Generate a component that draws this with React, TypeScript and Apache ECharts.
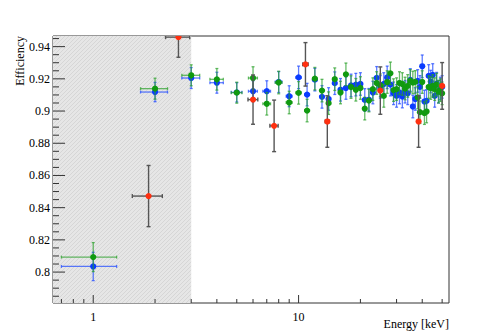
import React, { useEffect, useRef } from "react";
import * as echarts from "echarts";

// ---- data ----
const energies = [
  1, 2, 3, 4, 5, 6, 7, 8, 9, 10, 11, 12, 13, 14, 15, 16, 17, 18, 19, 20, 21, 22, 23, 24, 25,
  26, 27, 28, 29, 30, 31, 32, 33, 34, 35, 36, 37, 38, 39, 40, 41, 42, 43, 44, 45, 46, 47, 48, 49, 50,
];
const energyHalfWidth = 0.3;

const blueEff = [
  0.8035, 0.9118, 0.9205, 0.9176, 0.9116, 0.9123, 0.9123, 0.918, 0.9092, 0.9209, 0.9102, 0.9195,
  0.9088, 0.9075, 0.9173, 0.9132, 0.9143, 0.9159, 0.9164, 0.9168, 0.9069, 0.907, 0.9115, 0.9206,
  0.915, 0.9168, 0.9209, 0.9164, 0.911, 0.9094, 0.9115, 0.909, 0.912, 0.911, 0.9193, 0.9028,
  0.9075, 0.9187, 0.915, 0.9278, 0.9059, 0.9063, 0.9218, 0.9183, 0.9224, 0.9094, 0.917, 0.912,
  0.914, 0.915,
];
const blueErr = [
  0.0088, 0.006, 0.0065, 0.0065, 0.006, 0.0065, 0.0065, 0.0065, 0.0065, 0.007, 0.007, 0.007,
  0.007, 0.007, 0.007, 0.007, 0.007, 0.007, 0.007, 0.007, 0.007, 0.007, 0.007, 0.007, 0.007,
  0.007, 0.007, 0.007, 0.007, 0.007, 0.007, 0.007, 0.007, 0.007, 0.007, 0.007, 0.007, 0.007,
  0.007, 0.007, 0.007, 0.007, 0.007, 0.007, 0.007, 0.007, 0.007, 0.007, 0.007, 0.007,
];

const greenEff = [
  0.8093, 0.9139, 0.9222, 0.9197, 0.9114, 0.9205, 0.9045, 0.9177, 0.9053, 0.9113, 0.9003, 0.9201,
  0.9127, 0.9049, 0.9198, 0.9115, 0.9228, 0.9149, 0.9132, 0.9143, 0.9015, 0.9065, 0.9136, 0.9174,
  0.916, 0.9094, 0.918, 0.9234, 0.913, 0.9136, 0.9174, 0.9168, 0.914, 0.9156, 0.9187, 0.9177,
  0.9181, 0.9084, 0.8993, 0.918, 0.8987, 0.8997, 0.9149, 0.9143, 0.9156, 0.9136, 0.9164, 0.912,
  0.913, 0.911,
];
const greenErr = [
  0.009, 0.0065, 0.0065, 0.0067, 0.0065, 0.007, 0.007, 0.007, 0.007, 0.007, 0.007, 0.007,
  0.007, 0.007, 0.007, 0.007, 0.007, 0.007, 0.007, 0.007, 0.007, 0.007, 0.007, 0.007, 0.007,
  0.007, 0.007, 0.007, 0.007, 0.007, 0.007, 0.007, 0.007, 0.007, 0.007, 0.007, 0.007, 0.007,
  0.007, 0.007, 0.007, 0.007, 0.007, 0.007, 0.007, 0.007, 0.007, 0.007, 0.007, 0.007,
];

const redEnergy = [1.86, 2.6, 6, 7.6, 10.8, 13.8, 25, 38.4, 50];
const redHalfWidth = [0.31, 0.35, 0.33, 0.35, 0.33, 0.33, 0.33, 0.33, 0.33];
const redEff = [0.8472, 0.9459, 0.9071, 0.8908, 0.929, 0.8935, 0.9127, 0.8935, 0.9156];
const redErr = [0.019, 0.0125, 0.0153, 0.016, 0.0135, 0.016, 0.0147, 0.016, 0.0145];

const xRange = [0.637, 54];
const yRange = [0.7808, 0.9466];
const shadedUpTo = 3;

const xMajorTicks = [1, 10];
const xMinorTicks = [0.7, 0.8, 0.9, 2, 3, 4, 5, 6, 7, 8, 9, 20, 30, 40, 50];
const yMajorTicks = [0.8, 0.82, 0.84, 0.86, 0.88, 0.9, 0.92, 0.94];
const yMinorStep = 0.005;

const FONT = "Liberation Serif";

function makeHatch(): any {
  const c = document.createElement("canvas");
  c.width = 4;
  c.height = 4;
  const ctx = c.getContext("2d");
  if (!ctx) return "#e0e0e0";
  ctx.fillStyle = "#e6e6e6";
  ctx.fillRect(0, 0, 4, 4);
  ctx.fillStyle = "#d6d6d6";
  ctx.fillRect(0, 0, 1, 1);
  ctx.fillRect(2, 2, 1, 1);
  ctx.fillRect(1, 3, 1, 1);
  ctx.fillRect(3, 1, 1, 1);
  return { image: c, repeat: "repeat" };
}

function errRender(markerColor: string, barColor: string, barWidth: number, cap: number) {
  return (params: any, api: any) => {
    const x = api.value(0);
    const y = api.value(1);
    const ex = api.value(2);
    const ey = api.value(3);
    const c = api.coord([x, y]);
    const l = api.coord([x - ex, y]);
    const r = api.coord([x + ex, y]);
    const t = api.coord([x, y + ey]);
    const b = api.coord([x, y - ey]);
    const st = { stroke: barColor, lineWidth: barWidth };
    return {
      type: "group",
      children: [
        { type: "line", shape: { x1: l[0], y1: c[1], x2: r[0], y2: c[1] }, style: st },
        { type: "line", shape: { x1: c[0], y1: t[1], x2: c[0], y2: b[1] }, style: st },
        { type: "line", shape: { x1: c[0] - cap, y1: t[1], x2: c[0] + cap, y2: t[1] }, style: st },
        { type: "line", shape: { x1: c[0] - cap, y1: b[1], x2: c[0] + cap, y2: b[1] }, style: st },
        { type: "line", shape: { x1: l[0], y1: c[1] - cap, x2: l[0], y2: c[1] + cap }, style: st },
        { type: "line", shape: { x1: r[0], y1: c[1] - cap, x2: r[0], y2: c[1] + cap }, style: st },
        { type: "circle", shape: { cx: c[0], cy: c[1], r: 3.1 }, style: { fill: markerColor } },
      ],
    };
  };
}

export default function App() {
  const ref = useRef<HTMLDivElement>(null);
  useEffect(() => {
    if (!ref.current) return;
    const chart = echarts.init(ref.current, undefined, { renderer: "svg" });

    const blueData = energies.map((e, i) => [e, blueEff[i], energyHalfWidth, blueErr[i]]);
    const greenData = energies.map((e, i) => [e, greenEff[i], energyHalfWidth, greenErr[i]]);
    const redData = redEnergy.map((e, i) => [e, redEff[i], redHalfWidth[i], redErr[i]]);

    const xTickData = [
      ...xMajorTicks.map((v) => [v, yRange[0], 8]),
      ...xMinorTicks.map((v) => [v, yRange[0], 4]),
    ];
    const yTickData: number[][] = [];
    yMajorTicks.forEach((v) => yTickData.push([xRange[0], v, 12]));
    for (let k = Math.ceil(yRange[0] / yMinorStep); k * yMinorStep <= yRange[1]; k++) {
      const v = +(k * yMinorStep).toFixed(4);
      if (!yMajorTicks.some((m) => Math.abs(m - v) < 1e-6)) yTickData.push([xRange[0], v, 6]);
    }

    const hatch = makeHatch();

    chart.setOption({
      animation: false,
      grid: {
        left: 53,
        right: 49,
        top: 36,
        bottom: 32,
        show: true,
        borderColor: "#333",
        borderWidth: 1,
        backgroundColor: "transparent",
      },
      xAxis: {
        type: "log",
        logBase: 10,
        min: xRange[0],
        max: xRange[1],
        axisLine: { show: false },
        axisTick: { show: false },
        splitLine: { show: false },
        minorTick: { show: false },
        axisLabel: {
          showMinLabel: false,
          showMaxLabel: false,
          margin: 8,
          color: "#000",
          fontFamily: FONT,
          fontSize: 12,
        },
      },
      yAxis: {
        type: "value",
        min: yRange[0],
        max: yRange[1],
        splitNumber: 8,
        axisLine: { show: false },
        axisTick: { show: false },
        splitLine: { show: false },
        axisLabel: {
          showMinLabel: false,
          showMaxLabel: false,
          margin: 3,
          color: "#000",
          fontFamily: FONT,
          fontSize: 12,
        },
      },
      graphic: [
        {
          type: "text",
          x: 20,
          y: 36,
          rotation: Math.PI / 2,
          style: {
            text: "Efficiency",
            align: "right",
            verticalAlign: "middle",
            fill: "#000",
            fontFamily: FONT,
            fontSize: 12,
          },
        },
        {
          type: "text",
          x: 449,
          y: 324,
          style: {
            text: "Energy [keV]",
            align: "right",
            verticalAlign: "middle",
            fill: "#000",
            fontFamily: FONT,
            fontSize: 12,
          },
        },
      ],
      series: [
        {
          type: "custom",
          data: [[xRange[0], shadedUpTo]],
          silent: true,
          renderItem: (p: any, api: any) => {
            const a = api.coord([api.value(0), yRange[1]]);
            const b = api.coord([api.value(1), yRange[0]]);
            return {
              type: "rect",
              shape: { x: a[0], y: a[1], width: b[0] - a[0], height: b[1] - a[1] },
              style: { fill: hatch },
            };
          },
        },
        {
          type: "custom",
          data: xTickData,
          silent: true,
          renderItem: (p: any, api: any) => {
            const c = api.coord([api.value(0), api.value(1)]);
            return {
              type: "line",
              shape: { x1: c[0], y1: c[1], x2: c[0], y2: c[1] - api.value(2) },
              style: { stroke: "#333", lineWidth: 1 },
            };
          },
        },
        {
          type: "custom",
          data: yTickData,
          silent: true,
          renderItem: (p: any, api: any) => {
            const c = api.coord([api.value(0), api.value(1)]);
            return {
              type: "line",
              shape: { x1: c[0], y1: c[1], x2: c[0] + api.value(2), y2: c[1] },
              style: { stroke: "#333", lineWidth: 1 },
            };
          },
        },
        {
          type: "custom",
          data: blueData,
          clip: true,
          renderItem: errRender("#0a3cff", "rgba(40,80,255,0.75)", 1.3, 1.5),
        },
        {
          type: "custom",
          data: greenData,
          clip: true,
          renderItem: errRender("#109a10", "rgba(40,160,40,0.7)", 1.3, 1.5),
        },
        {
          type: "custom",
          data: redData,
          clip: true,
          renderItem: errRender("#ff3010", "#555", 1.4, 2),
        },
      ],
    });
    return () => chart.dispose();
  }, []);
  return (
    <div
      ref={ref}
      style={{ position: "fixed", left: 0, top: 0, width: 498, height: 335, background: "#fff" }}
    />
  );
}
